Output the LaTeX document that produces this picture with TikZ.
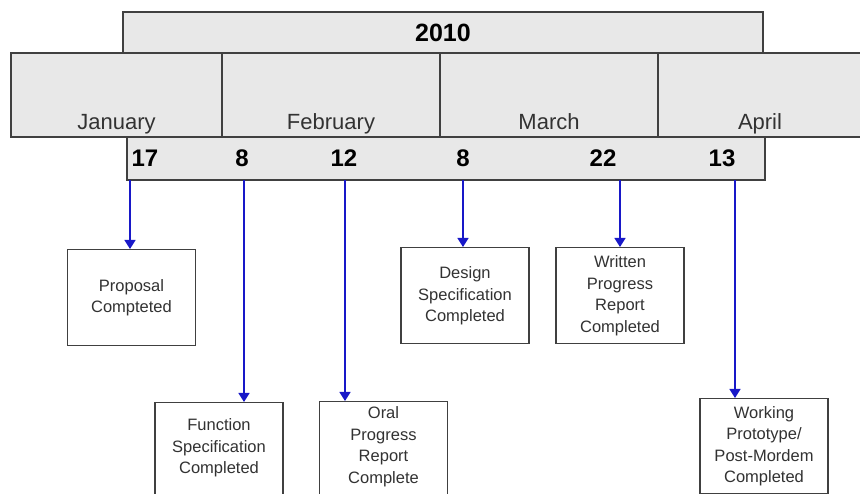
\documentclass[tikz,border=0pt]{standalone}
\usepackage{fontspec}
\setmainfont{Liberation Sans}
\usetikzlibrary{arrows.meta}

\definecolor{barfill}{RGB}{232,232,232}
\definecolor{edgegray}{RGB}{64,64,64}
\definecolor{textgray}{RGB}{50,50,50}
\definecolor{linkblue}{RGB}{24,24,200}

\begin{document}
\begin{tikzpicture}[
  x=1pt, y=-1pt,
  bar/.style={draw=edgegray, fill=barfill, line width=1.5pt, inner sep=0pt},
  month/.style={bar, text height=75pt, text depth=5pt, inner ysep=2pt, minimum width=#1,
    font=\fontsize{22}{26}\selectfont, text=textgray},
  day/.style={anchor=base, font=\fontsize{24}{28}\selectfont\bfseries},
  box/.style={draw=edgegray, fill=white, line width=1.5pt, align=center, anchor=north,
    minimum width=128pt, minimum height=96pt, font=\fontsize{16.5}{21.5}\selectfont, text=textgray},
  cut/.style={minimum height=0pt, text depth=90pt, inner ysep=#1},
  arrow/.style={-{Triangle[width=11pt, length=9pt]}, draw=linkblue, line width=1.4pt}
]
\useasboundingbox (0,0) rectangle (860,494);
\clip (0,0) rectangle (860,494);

% year and months
\node[bar, minimum width=640pt, minimum height=41pt, font=\fontsize{25}{30}\selectfont\bfseries] (year) at (443,32.5) {2010};

\node[month=211pt] (jan) at (116.5,95) {January};
\node[month=218pt] (feb) at (331,95) {February};
\node[month=218pt] (mar) at (549,95) {March};
\node[month=204pt] (apr) at (760,95) {April};

% days bar
\node[bar, minimum width=638pt, minimum height=43pt] (dates) at (446,158.5) {};
\node[day] (d17) at (145,167) {17};
\node[day] (d8a) at (242,167) {8};
\node[day] (d12) at (344,167) {12};
\node[day] (d8b) at (463,167) {8};
\node[day] (d22) at (603,167) {22};
\node[day] (d13) at (722,167) {13};

% milestones
\node[box] (prop) at (131.5,249) {Proposal\\Compteted};
\node[box, cut=16pt] (func) at (219,402) {Function\\Specification\\Completed};
\node[box, cut=5pt] (oral) at (383.5,401) {Oral\\Progress\\Report\\Complete};
\node[box] (design) at (465,247) {Design\\Specification\\Completed};
\node[box] (written) at (620,247) {Written\\Progress\\Report\\Completed};
\node[box, minimum height=95pt] (proto) at (764,398) {Working\\Prototype/\\Post-Mordem\\Completed};

% arrow starts on the days bar
\coordinate (t1) at (130,180);
\coordinate (t2) at (244,180);
\coordinate (t3) at (345,180);
\coordinate (t4) at (463,180);
\coordinate (t5) at (620,180);
\coordinate (t6) at (735,180);

\draw[arrow] (t1) -- (prop.north -| t1);
\draw[arrow] (t2) -- (func.north -| t2);
\draw[arrow] (t3) -- (oral.north -| t3);
\draw[arrow] (t4) -- (design.north -| t4);
\draw[arrow] (t5) -- (written.north -| t5);
\draw[arrow] (t6) -- (proto.north -| t6);

\end{tikzpicture}
\end{document}
